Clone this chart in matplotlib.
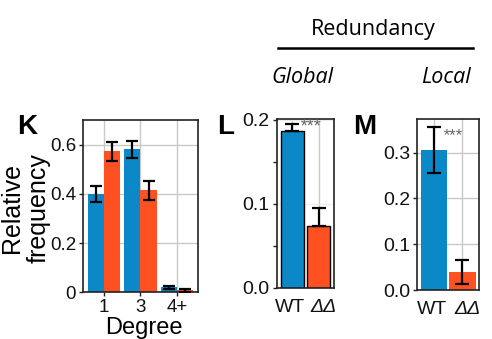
import matplotlib
matplotlib.use("Agg")
import matplotlib.pyplot as plt
from matplotlib.transforms import ScaledTranslation
import numpy as np

plt.rcParams['font.family'] = ['Liberation Sans', 'DejaVu Sans']

BLUE = '#0a88c8'
ORANGE = '#ff5021'
GRID = '#c8c8c8'

# Degree distribution (panel K)
degree_labels = ['1', '3', '4+']
degree_wt = [0.399, 0.581, 0.020]
degree_wt_err = [0.034, 0.034, 0.007]
degree_dd = [0.573, 0.415, 0.009]
degree_dd_err = [0.038, 0.039, 0.006]

# Global redundancy (panel L)
strain_labels = ['WT', 'ΔΔ']
global_vals = [0.187, 0.0736]
global_err = [0.008, 0.021]

# Local redundancy (panel M)
local_vals = [0.306, 0.0393]
local_err = [0.051, 0.026]

fig = plt.figure(figsize=(4.92, 3.39), dpi=100)

def style_axes(ax, size):
    for s in ax.spines.values():
        s.set_color('#222222')
        s.set_linewidth(1.2)
    ax.tick_params(axis='both', colors='#222222', labelcolor='#111111',
                   labelsize=size, length=3, width=1.0, pad=2)
    ax.set_axisbelow(True)

def strain_ticks(ax):
    ax.set_xticks(xs)
    ax.set_xticklabels(strain_labels)
    ax.tick_params(axis='x', length=0, pad=8, labelsize=14)
    labels = ax.get_xticklabels()
    labels[1].set_fontstyle('italic')
    labels[0].set_transform(labels[0].get_transform()
                            + ScaledTranslation(-1.5 / 72, 0, fig.dpi_scale_trans))
    labels[1].set_transform(labels[1].get_transform()
                            + ScaledTranslation(3.5 / 72, 0, fig.dpi_scale_trans))

# ---- Panel K ----
axK = fig.add_axes([0.1687, 0.1378, 0.2337, 0.508])
x = np.arange(len(degree_labels))
w = 0.45
axK.bar(x - w / 2, degree_wt, width=w, color=BLUE, zorder=2)
axK.bar(x + w / 2, degree_dd, width=w, color=ORANGE, zorder=2)
axK.errorbar(x - w / 2, degree_wt, yerr=degree_wt_err, fmt='none',
             ecolor='black', elinewidth=1.6, capsize=4, capthick=1.6, zorder=3)
axK.errorbar(x + w / 2, degree_dd, yerr=degree_dd_err, fmt='none',
             ecolor='black', elinewidth=1.6, capsize=4, capthick=1.6, zorder=3)
axK.set_xlim(-0.58, 2.58)
axK.set_ylim(0, 0.7)
axK.set_xticks(x)
axK.set_xticklabels(degree_labels)
axK.set_yticks([0, 0.2, 0.4, 0.6])
axK.set_yticklabels(['0', '0.2', '0.4', '0.6'])
axK.grid(True, color=GRID, linewidth=1.0)
style_axes(axK, 13.5)
axK.tick_params(axis='x', pad=1.5)
fig.text(0.292, 0.016, 'Degree', fontsize=17, ha='center', va='baseline')
fig.text(0.051, 0.386, 'Relative\nfrequency', fontsize=18, rotation=90,
         ha='center', va='center', linespacing=1.15)
fig.text(0.055, 0.625, 'K', fontsize=20, fontweight='bold', ha='center', va='center')

xs = np.arange(len(strain_labels))

# ---- Panel L ----
axL = fig.add_axes([0.5624, 0.1513, 0.117, 0.4976])
axL.bar(xs, global_vals, width=0.9, color=[BLUE, ORANGE],
        edgecolor='black', linewidth=1.0, zorder=2)
axL.errorbar(xs, global_vals, yerr=[[0, 0], global_err], fmt='none',
             ecolor='black', elinewidth=1.6, capsize=5, capthick=1.6, zorder=3)
axL.set_xlim(-0.6, 1.6)
axL.set_ylim(0, 0.201)
axL.set_yticks([0.0, 0.1, 0.2])
axL.set_yticklabels(['0.0', '0.1', '0.2'])
axL.set_yticks([0.05, 0.15], minor=True)
axL.grid(True, axis='x', color=GRID, linewidth=1.0)
axL.grid(True, axis='y', color='#ececec', linewidth=0.8)
style_axes(axL, 14)
strain_ticks(axL)
axL.tick_params(axis='y', which='minor', length=3, width=1.0, colors='#222222')
axL.text(0.27, 0.192, '***', color='#666666', fontsize=13, fontstyle='italic',
         ha='left', va='center', zorder=4)
fig.text(0.459, 0.625, 'L', fontsize=20, fontweight='bold', ha='center', va='center')

# ---- Panel M ----
axM = fig.add_axes([0.8482, 0.1445, 0.126, 0.5035])
axM.bar(xs, local_vals, width=0.93, color=[BLUE, ORANGE], zorder=2)
axM.errorbar(xs, local_vals, yerr=local_err, fmt='none',
             ecolor='black', elinewidth=1.6, capsize=5, capthick=1.6, zorder=3)
axM.set_xlim(-0.6, 1.6)
axM.set_ylim(0, 0.373)
axM.set_yticks([0.0, 0.1, 0.2, 0.3])
axM.set_yticklabels(['0.0', '0.1', '0.2', '0.3'])
axM.grid(True, color=GRID, linewidth=1.0)
style_axes(axM, 14)
strain_ticks(axM)
axM.text(0.26, 0.338, '***', color='#666666', fontsize=12, fontstyle='italic',
         ha='left', va='center', zorder=4)
fig.text(0.742, 0.625, 'M', fontsize=20, fontweight='bold', ha='center', va='center')

# ---- Redundancy header ----
fig.text(0.758, 0.912, 'Redundancy', fontsize=15.5, family='Open Sans',
         ha='center', va='center')
fig.add_artist(plt.Line2D([0.565, 0.962], [0.858, 0.858], color='black',
                          linewidth=1.8, transform=fig.transFigure))
fig.text(0.614, 0.772, 'Global', fontsize=15.5, family='Open Sans',
         fontstyle='italic', ha='center', va='center')
fig.text(0.906, 0.772, 'Local', fontsize=15.5, family='Open Sans',
         fontstyle='italic', ha='center', va='center')

fig.savefig('out.png', dpi=100)
